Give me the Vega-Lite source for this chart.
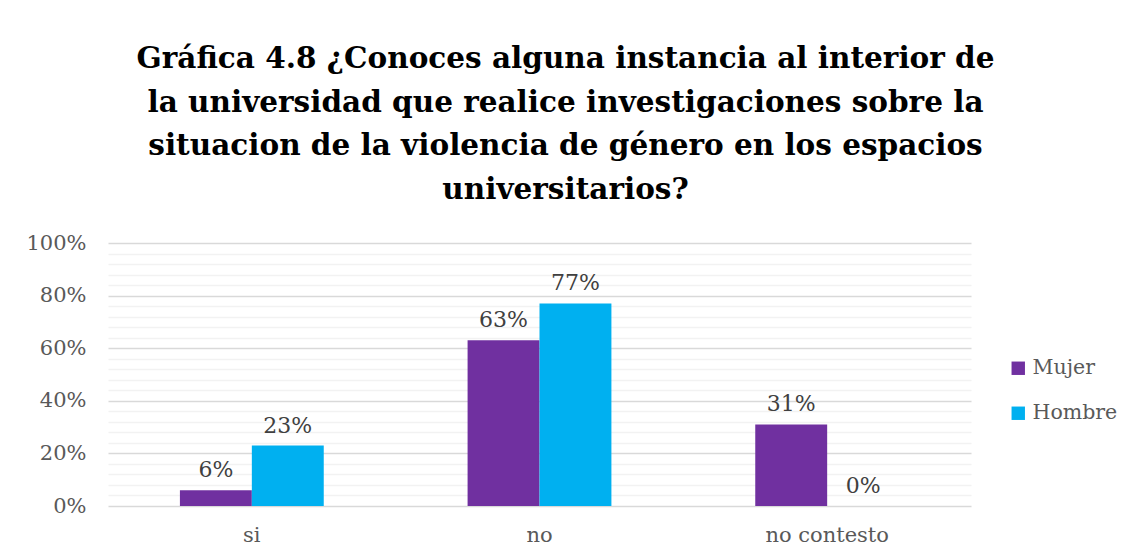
{
  "$schema": "https://vega.github.io/schema/vega-lite/v6.json",
  "width": 863,
  "height": 263,
  "autosize": {"type": "none"},
  "padding": {"left": 108, "top": 243, "right": 157, "bottom": 53},
  "background": "white",
  "title": {
    "text": ["Gráfica 4.8 ¿Conoces alguna instancia al interior de", "la universidad que realice investigaciones sobre la", "situacion de la violencia de género en los espacios", "universitarios?"],
    "font": "DejaVu Serif",
    "fontSize": 29.5,
    "fontWeight": "bold",
    "color": "#000000",
    "lineHeight": 43.5,
    "anchor": "middle",
    "frame": "group",
    "dx": 26,
    "baseline": "alphabetic",
    "offset": 4
  },
  "data": {
    "values": [
      {"respuesta": "si", "sexo": "Mujer", "valor": 0.06},
      {"respuesta": "si", "sexo": "Hombre", "valor": 0.23},
      {"respuesta": "no", "sexo": "Mujer", "valor": 0.63},
      {"respuesta": "no", "sexo": "Hombre", "valor": 0.77},
      {"respuesta": "no contesto", "sexo": "Mujer", "valor": 0.31},
      {"respuesta": "no contesto", "sexo": "Hombre", "valor": 0.0}
    ]
  },
  "encoding": {
    "x": {
      "field": "respuesta",
      "type": "nominal",
      "sort": ["si", "no", "no contesto"],
      "scale": {"paddingInner": 0.5, "paddingOuter": 0.25},
      "axis": {
        "title": null,
        "domain": false,
        "ticks": false,
        "labelAngle": 0,
        "labelFont": "DejaVu Serif",
        "labelFontSize": 21,
        "labelColor": "#595959",
        "labelPadding": 18,
        "grid": false
      }
    },
    "xOffset": {"field": "sexo", "type": "nominal", "sort": ["Mujer", "Hombre"]},
    "y": {
      "field": "valor",
      "type": "quantitative",
      "scale": {"domain": [0, 1], "nice": false},
      "axis": {
        "title": null,
        "domain": false,
        "ticks": false,
        "values": [0, 0.04, 0.08, 0.12, 0.16, 0.2, 0.24, 0.28, 0.32, 0.36, 0.4, 0.44, 0.48, 0.52, 0.56, 0.6, 0.64, 0.68, 0.72, 0.76, 0.8, 0.84, 0.88, 0.92, 0.96, 1],
        "labelExpr": "round(datum.value*100) % 20 == 0 ? format(datum.value, '.0%') : ''",
        "labelFont": "DejaVu Serif",
        "labelFontSize": 21,
        "labelColor": "#595959",
        "labelPadding": 22,
        "grid": true,
        "gridColor": {"condition": {"test": "round(datum.value*100) % 20 == 0", "value": "#D9D9D9"}, "value": "#F2F2F2"},
        "gridWidth": 1.5
      }
    }
  },
  "layer": [
    {
      "mark": {"type": "bar"},
      "encoding": {
        "color": {
          "field": "sexo",
          "type": "nominal",
          "sort": ["Mujer", "Hombre"],
          "scale": {"domain": ["Mujer", "Hombre"], "range": ["#7030A0", "#00B0F0"]},
          "legend": {
            "title": null,
            "orient": "none",
            "legendX": 900,
            "legendY": 115,
            "symbolType": "square",
            "symbolSize": 180,
            "symbolStrokeWidth": 0,
            "labelFont": "DejaVu Serif",
            "labelFontSize": 20.5,
            "labelColor": "#595959",
            "labelOffset": 4,
            "rowPadding": 24
          }
        }
      }
    },
    {
      "mark": {"type": "text", "baseline": "alphabetic", "dy": -13, "font": "DejaVu Serif", "fontSize": 22, "color": "#404040"},
      "encoding": {
        "text": {"field": "valor", "type": "quantitative", "format": ".0%"}
      }
    }
  ],
  "config": {"view": {"stroke": null}}
}
